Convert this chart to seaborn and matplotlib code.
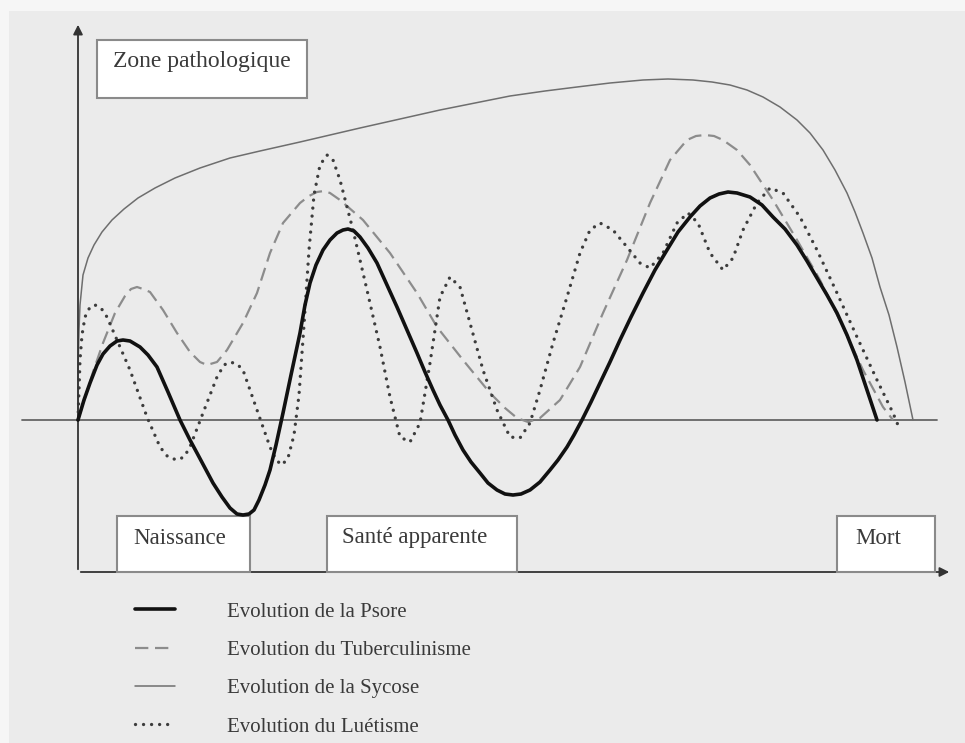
import seaborn as sns
import matplotlib.pyplot as plt
from matplotlib.patches import Rectangle

# temps (abscisse) et niveau (ordonnée, 0 = ligne de santé)
psore_t = [0, 6, 12, 19, 25, 32, 39, 45, 52, 62, 70, 79, 90, 102, 112, 119, 127, 135, 144, 152,
           159, 165, 171, 176, 181, 187, 192, 198, 205, 213, 222, 227, 232, 238, 245, 252, 259, 265, 270, 276,
           282, 290, 299, 309, 319, 329, 339, 347, 355, 362, 370, 377, 385, 393, 402, 410, 419, 427, 435, 443,
           452, 462, 472, 480, 489, 496, 504, 513, 522, 532, 542, 553, 565, 577, 589, 600, 612, 622, 632, 641,
           650, 659, 672, 684, 695, 707, 719, 729, 739, 749, 759, 769, 779, 789, 799]
psore_v = [0, 20, 37, 55, 66, 74, 79, 80, 79, 73, 65, 53, 28, 0, -20, -33, -48, -63, -77, -88,
           -94, -95, -94, -90, -80, -65, -50, -25, 7, 45, 87, 115, 137, 155, 170, 180, 187, 190, 191, 189,
           183, 172, 157, 135, 113, 90, 67, 48, 30, 15, 0, -15, -30, -42, -53, -63, -70, -74, -75, -74,
           -70, -62, -50, -40, -27, -15, 0, 18, 37, 58, 80, 103, 127, 150, 170, 188, 203, 214, 222, 226,
           228, 227, 223, 215, 203, 191, 175, 159, 142, 125, 107, 85, 60, 30, 0]

tuber_t = [0, 7, 15, 25, 37, 47, 53, 59, 65, 72, 85, 99, 112, 122, 129, 139, 149, 165, 179, 192,
           205, 222, 231, 239, 246, 252, 262, 285, 312, 339, 359, 385, 412, 427, 439, 450, 462, 482, 502, 525,
           549, 572, 592, 609, 618, 627, 636, 645, 659, 672, 695, 719, 742, 765, 785, 805, 815]
tuber_v = [0, 22, 48, 77, 107, 124, 131, 133, 131, 128, 110, 87, 68, 58, 55, 58, 70, 97, 127, 167,
           197, 217, 224, 228, 229, 227, 220, 200, 167, 127, 93, 60, 27, 12, 2, -2, 2, 20, 53, 107,
           160, 217, 260, 280, 284, 285, 284, 280, 270, 255, 220, 180, 140, 93, 50, 13, 0]

sycose_t = [0, 0, 1, 2, 5, 10, 16, 24, 34, 46, 60, 77, 97, 122, 152, 182, 222, 282, 362, 432,
            467, 499, 532, 565, 590, 615, 634, 652, 669, 685, 702, 719, 732, 745, 757, 769, 777, 785, 794, 802,
            811, 819, 827, 835]
sycose_v = [0, 50, 90, 115, 145, 162, 175, 188, 200, 211, 222, 232, 242, 252, 262, 269, 278, 292, 310, 324,
            329, 333, 337, 340, 341, 340, 338, 335, 330, 323, 313, 300, 287, 270, 250, 227, 208, 187, 162, 133,
            105, 73, 38, 0]

lues_t = [0, 1, 2, 4, 7, 12, 17, 23, 29, 39, 52, 69, 82, 90, 99, 106, 112, 125, 139, 146,
          152, 159, 165, 179, 192, 198, 204, 210, 216, 221, 226, 231, 236, 242, 249, 255, 262, 275,
          289, 302, 312, 322, 332, 342, 352, 362, 372, 382, 392, 405, 419, 432, 442, 452, 462, 475,
          489, 502, 512, 522, 535, 549, 562, 572, 585, 599, 610, 620, 632, 645, 655, 665, 679, 692,
          705, 722, 739, 759, 779, 799, 815, 822]
lues_v = [0, 30, 60, 85, 103, 113, 115, 112, 103, 80, 50, 3, -27, -37, -40, -37, -27, 7, 43, 55,
          58, 56, 50, 10, -27, -40, -45, -38, -15, 25, 95, 170, 225, 255, 265, 260, 240, 190,
          130, 73, 23, -17, -22, -3, 57, 123, 143, 133, 97, 50, 10, -17, -18, -3, 30, 77,
          123, 167, 190, 197, 190, 173, 157, 152, 167, 197, 207, 197, 167, 150, 162, 190, 217, 232,
          227, 203, 170, 127, 83, 40, 7, -10]

labels = ["Evolution de la Psore", "Evolution du Tuberculinisme",
          "Evolution de la Sycose", "Evolution du Luétisme"]
phases = ["Naissance", "Santé apparente", "Mort"]

sns.set_theme(style="white")
plt.rcParams['font.family'] = ['Liberation Serif', 'DejaVu Serif']

fig = plt.figure(figsize=(9.65, 7.43), dpi=100, facecolor="#f6f6f6")
ax = fig.add_axes([0, 0, 1, 1])
ax.set_xlim(-78, 887)
ax.set_ylim(-323, 420)
ax.axis("off")
ax.add_patch(Rectangle((-69, -323), 960, 732, facecolor="#ebebeb", edgecolor="none", zorder=0))

txt = "#3a3a3a"

# axes fléchés et ligne de santé
ax.annotate("", xy=(0, 398), xytext=(0, -152),
            arrowprops=dict(arrowstyle="-|>", color="#333333", lw=1.3, mutation_scale=14))
ax.annotate("", xy=(874, -152), xytext=(0, -152),
            arrowprops=dict(arrowstyle="-|>", color="#333333", lw=1.3, mutation_scale=14))
ax.plot([-56, 859], [0, 0], color="#666666", lw=1.3, zorder=1)

# cadres
box = dict(facecolor="white", edgecolor="#8a8a8a", lw=1.5, zorder=3)
ax.add_patch(Rectangle((19, 322), 210, 58, **box))
ax.text(35, 358, "Zone pathologique", fontsize=17, color=txt, ha="left", va="center", zorder=4)
for x0, w in zip([39, 249, 759], [133, 190, 98]):
    ax.add_patch(Rectangle((x0, -152), w, 56, **box))
for tx, name in zip([55, 264, 777], phases):
    ax.text(tx, -118, name, fontsize=16.5, color=txt, ha="left", va="center", zorder=4)

# courbes
sns.lineplot(x=sycose_t, y=sycose_v, sort=False, estimator=None, ax=ax,
             color="#6e6e6e", linewidth=1.1, label=labels[2], zorder=2)
sns.lineplot(x=tuber_t, y=tuber_v, sort=False, estimator=None, ax=ax,
             color="#8c8c8c", linewidth=1.6, linestyle=(0, (6, 3)), label=labels[1], zorder=2)
sns.lineplot(x=lues_t, y=lues_v, sort=False, estimator=None, ax=ax,
             color="#3c3c3c", linewidth=2.4, linestyle=(0, (0.01, 2.4)), label=labels[3], zorder=2)
ax.lines[-1].set_dash_capstyle("round")
sns.lineplot(x=psore_t, y=psore_v, sort=False, estimator=None, ax=ax,
             color="#111111", linewidth=2.6, label=labels[0], zorder=5)
for ln in ax.lines:
    ln.set_solid_joinstyle("round")

h, l = ax.get_legend_handles_labels()
order = [l.index(s) for s in labels]
leg = ax.legend([h[i] for i in order], [l[i] for i in order], loc="upper left",
                bbox_to_anchor=(135 / 965, 1 - 602 / 743), bbox_transform=fig.transFigure,
                frameon=False, fontsize=15, handlelength=1.92, handletextpad=2.5,
                labelspacing=0.9, borderpad=0, borderaxespad=0)
for t in leg.get_texts():
    t.set_color(txt)

fig.savefig("out.png", dpi=100, facecolor=fig.get_facecolor())
